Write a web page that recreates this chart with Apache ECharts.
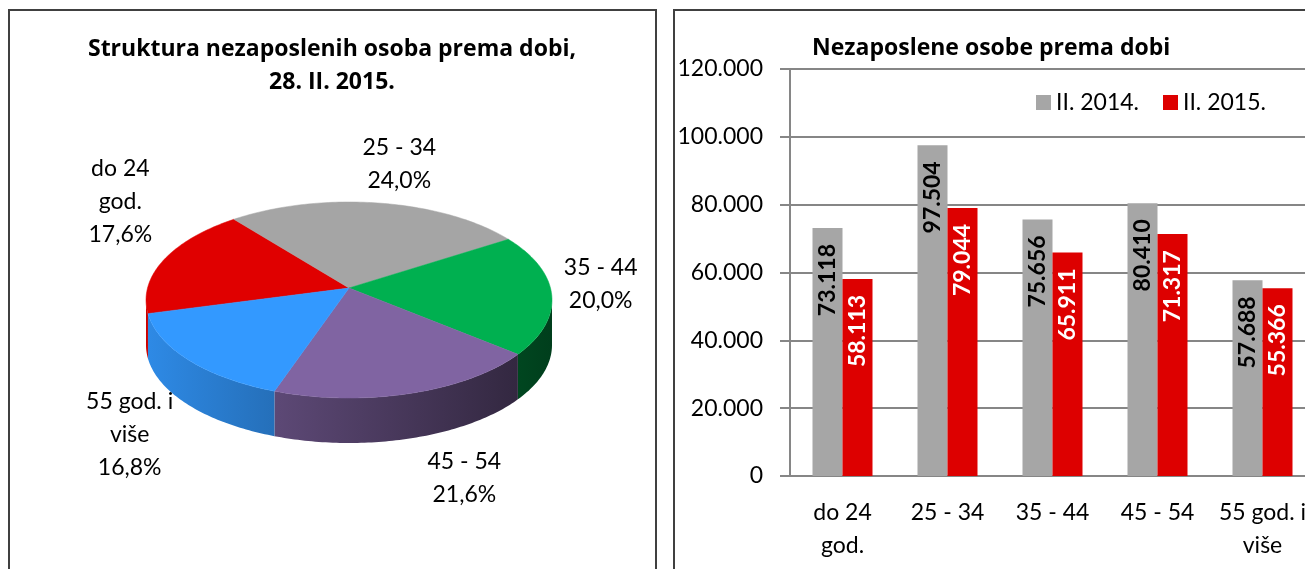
<!DOCTYPE html>
<html>
<head>
<meta charset="utf-8">
<script src="https://cdn.jsdelivr.net/npm/echarts@6/dist/echarts.min.js"></script>
<style>
html, body { margin: 0; padding: 0; background: #fff; }
#chart { width: 1305px; height: 569px; }
</style>
</head>
<body>
<div id="chart"></div>
<script>
// podaci
const categories = ['do 24\ngod.', '25 - 34', '35 - 44', '45 - 54', '55 god. i\nviše'];
const values2014 = [73118, 97504, 75656, 80410, 57688];
const values2015 = [58113, 79044, 65911, 71317, 55366];
const seriesNames = ['II. 2014.', 'II. 2015.'];
const yMax = 120000;
const yStep = 20000;

const pieColors = ['#e00000', '#a5a5a5', '#00b050', '#8064a2', '#3399ff'];
const barColors = ['#a6a6a6', '#dd0000'];

// raspored 3D pite
const PIE = { cx: 349, cy: 300, rx: 203, ry: 98, depth: 45, apexDy: -12, start: 262 };
const FONT = 'Lato';
const TITLE_FONT = 'Open Sans';

// broj s točkom kao separatorom tisućica
function fmt(v) {
    return v === 0 ? '0' : (v / 1000).toFixed(3);
}

function darken(hex, f) {
    const n = parseInt(hex.slice(1), 16);
    const r = Math.round(((n >> 16) & 255) * f);
    const g = Math.round(((n >> 8) & 255) * f);
    const b = Math.round((n & 255) * f);
    return 'rgb(' + r + ',' + g + ',' + b + ')';
}

function pt(deg, dy) {
    const t = deg * Math.PI / 180;
    return [PIE.cx + PIE.rx * Math.sin(t), PIE.cy - PIE.ry * Math.cos(t) + dy];
}

function arc(a, b, dy) {
    const pts = [];
    const n = Math.max(2, Math.ceil(Math.abs(b - a)));
    for (let i = 0; i <= n; i++) {
        pts.push(pt(a + (b - a) * i / n, dy));
    }
    return pts;
}

// kutovi kriški
const total = values2015.reduce((s, v) => s + v, 0);
const slices = [];
let acc = PIE.start;
values2015.forEach((v, i) => {
    const span = v / total * 360;
    slices.push({ a: acc, b: acc + span, color: pieColors[i], pct: (v / total * 100).toFixed(1).replace('.', ',') });
    acc += span;
});

const measureCtx = document.createElement('canvas').getContext('2d');
measureCtx.font = '23px ' + FONT;
function textWidth(text) {
    return Math.max.apply(null, text.split('\n').map(l => measureCtx.measureText(l).width));
}

function renderPie(params, api) {
    const s = slices[params.dataIndex];
    const children = [];
    // bočne stranice (samo prednja polovica)
    [[90, 270], [450, 630]].forEach(function (r) {
        const a = Math.max(s.a, r[0]);
        const b = Math.min(s.b, r[1]);
        if (b - a > 0.1) {
            const pts = arc(a, b, 0).concat(arc(b, a, PIE.depth));
            children.push({
                type: 'polygon',
                shape: { points: pts },
                style: {
                    fill: new echarts.graphic.LinearGradient(PIE.cx - PIE.rx, 0, PIE.cx + PIE.rx, 0, [
                        { offset: 0, color: darken(s.color, 0.9) },
                        { offset: 1, color: darken(s.color, 0.35) }
                    ], true)
                },
                z2: 1
            });
        }
    });
    const apex = [PIE.cx, PIE.cy + PIE.apexDy];
    children.push({
        type: 'polygon',
        shape: { points: [apex].concat(arc(s.a, s.b, 0)) },
        style: { fill: s.color, stroke: s.color, lineWidth: 0.5 },
        z2: 2
    });

    // oznaka izvan kriške
    const mid = (s.a + s.b) / 2;
    const t = mid * Math.PI / 180;
    const sn = Math.sin(t), cs = Math.cos(t);
    const front = Math.pow(Math.max(0, -cs), 4);
    const px = PIE.cx + (PIE.rx + 12 + 60 * front) * sn;
    const py = apex[1] - (PIE.ry - 6) * cs + (cs < 0 ? PIE.depth * Math.sqrt(-cs) : 0) + 30 * front;
    const text = categories[params.dataIndex] + '\n' + s.pct + '%';
    const w = textWidth(text);
    const x = px + w / 2 * Math.max(-1, Math.min(1, sn * 3.3));
    const va = cs > 0.3 ? 'bottom' : (cs < -0.3 ? 'top' : 'middle');
    children.push({
        type: 'text',
        x: x,
        y: py,
        style: {
            text: text,
            fontSize: 23,
            fontFamily: FONT,
            fill: '#000',
            align: 'center',
            verticalAlign: va,
            lineHeight: 33
        },
        z2: 3
    });
    return { type: 'group', children: children };
}

function barLabel(color) {
    return {
        show: true,
        position: 'insideTop',
        rotate: 90,
        align: 'right',
        verticalAlign: 'middle',
        distance: 16,
        fontFamily: FONT,
        fontWeight: 'bold',
        fontSize: 23,
        color: color,
        formatter: p => fmt(p.value)
    };
}

function init() {
    const chart = echarts.init(document.getElementById('chart'));
    const axisColor = '#868686';
    const option = {
        animation: false,
        textStyle: { fontFamily: FONT },
        graphic: [
            { type: 'rect', shape: { x: 9, y: 10, width: 647, height: 600 }, style: { fill: 'none', stroke: '#404040', lineWidth: 2 } },
            { type: 'rect', shape: { x: 674, y: 10, width: 700, height: 600 }, style: { fill: 'none', stroke: '#404040', lineWidth: 2 } },
            {
                type: 'text', x: 332, y: 66,
                style: {
                    text: 'Struktura nezaposlenih osoba prema dobi,\n28. II. 2015.',
                    fontSize: 23, fontWeight: 'bold', fontFamily: TITLE_FONT, fill: '#000',
                    align: 'center', verticalAlign: 'middle', lineHeight: 33
                }
            },
            {
                type: 'text', x: 812, y: 48,
                style: {
                    text: 'Nezaposlene osobe prema dobi',
                    fontSize: 23, fontWeight: 'bold', fontFamily: TITLE_FONT, fill: '#000',
                    align: 'left', verticalAlign: 'middle'
                }
            }
        ],
        legend: {
            left: 1036,
            top: 91,
            padding: 0,
            itemWidth: 15,
            itemHeight: 15,
            itemGap: 24,
            icon: 'rect',
            data: seriesNames,
            textStyle: { fontSize: 23, fontFamily: FONT, color: '#000' }
        },
        grid: { left: 790, top: 69, width: 525, height: 407, containLabel: false, outerBoundsMode: 'none' },
        xAxis: {
            type: 'category',
            data: categories,
            axisLine: { lineStyle: { color: axisColor, width: 2 } },
            axisTick: { length: 8, lineStyle: { color: axisColor, width: 2 } },
            axisLabel: { interval: 0, fontSize: 23, lineHeight: 33, margin: 20, color: '#000', fontFamily: FONT, hideOverlap: false }
        },
        yAxis: {
            type: 'value',
            min: 0,
            max: yMax,
            interval: yStep,
            axisLine: { show: true, lineStyle: { color: axisColor, width: 2 } },
            axisTick: { show: true, length: 10, lineStyle: { color: axisColor, width: 2 } },
            splitLine: { lineStyle: { color: axisColor, width: 2 } },
            axisLabel: { fontSize: 23, margin: 27, color: '#000', fontFamily: FONT, formatter: fmt }
        },
        series: [
            {
                name: seriesNames[0],
                type: 'bar',
                data: values2014,
                barWidth: 30,
                barGap: '0%',
                itemStyle: { color: barColors[0] },
                label: barLabel('#000')
            },
            {
                name: seriesNames[1],
                type: 'bar',
                data: values2015,
                barWidth: 30,
                itemStyle: { color: barColors[1] },
                label: barLabel('#fff')
            },
            {
                type: 'custom',
                coordinateSystem: 'none',
                data: values2015,
                renderItem: renderPie,
                silent: true
            }
        ]
    };
    chart.setOption(option);
}

document.addEventListener('DOMContentLoaded', init);
</script>
</body>
</html>
